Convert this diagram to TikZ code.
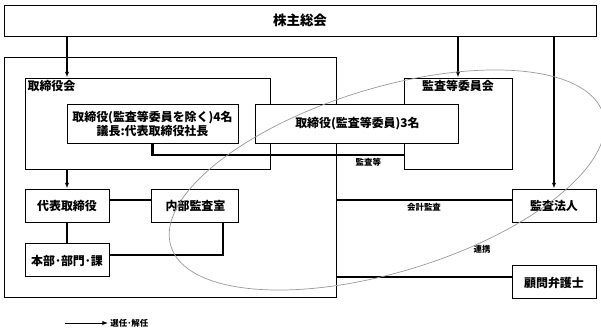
\documentclass[tikz,border=0pt]{standalone}
\usepackage{fontspec}
\setmainfont{Noto Sans CJK JP}
\usepackage{tikz}
\usetikzlibrary{positioning, arrows.meta, shapes.geometric}

\begin{document}
\begin{tikzpicture}[
        node distance=0.5cm and 1cm,
        box/.style={rectangle, draw=black, line width=0.7pt, fill=white, minimum width=2.1cm, minimum height=0.825cm, align=center, inner sep=1pt, font=\fontsize{8.5}{10}\selectfont\bfseries},
        frame/.style={rectangle, draw=black, line width=0.7pt, inner sep=0pt},
        tag/.style={font=\fontsize{8.5}{10}\selectfont\bfseries, inner sep=2pt},
        note/.style={font=\fontsize{6}{7}\selectfont\bfseries, inner sep=1.5pt},
        arrow/.style={-{Latex[length=4pt, width=3pt]}, line width=0.9pt},
        link/.style={line width=2pt}
    ]
    \useasboundingbox (0,0) rectangle (15.025,-8.35);
    \node[box, minimum width=14.8cm, minimum height=0.775cm, font=\fontsize{9.6}{11}\selectfont\bfseries] (gm) at (7.5,-0.5125) {株主総会};
    \node[frame, minimum width=8.3cm, minimum height=6cm] (corp) at (4.25,-4.425) {};
    \node[frame, minimum width=6.125cm, minimum height=2.275cm, label={[tag, anchor=north west]north west:取締役会}] (board) at (3.6875,-3.0875) {};
    \node[frame, minimum width=2.7cm, minimum height=2.275cm, label={[tag, anchor=north]north:監査等委員会}] (committee) at (11.45,-3.0875) {};
    \node[box, minimum width=4.275cm, minimum height=0.975cm] (dir4) at (3.8125,-3.0875) {取締役(監査等委員を除く)4名\\議長:代表取締役社長};
    \node[box, minimum width=5.075cm, minimum height=0.975cm, right=0.425cm of dir4] (dir3) {取締役(監査等委員)3名};

    \node[box] (rep) at (1.675,-5.1375) {代表取締役};
    \node[box, minimum width=2.175cm, right=1.05cm of rep] (office) {内部監査室};
    \node[box, below=0.525cm of rep] (dept) {本部･部門･課};
    \node[box] (auditor) at (13.85,-5.1375) {監査法人};
    \node[box, below=1.075cm of auditor] (lawyer) {顧問弁護士};

    \coordinate (comin) at ([yshift=-0.7875cm]committee.west);
    \coordinate (audin) at ([yshift=0.1375cm]auditor.west);
    \coordinate (lawin) at ([yshift=0.1375cm]lawyer.west);

    \draw[arrow] (gm.south -| rep) -- (board.north -| rep);
    \draw[arrow] (board.south -| rep) -- (rep.north);
    \draw[arrow] (gm.south -| committee) -- (committee.north);
    \draw[arrow] (gm.south -| auditor) -- (auditor.north);

    \draw[link] (dir4.south) |- node[note, below, pos=0.93] (kansalbl) {監査等} (comin);
    \draw[link] ([yshift=0.1375cm]rep.east) -- ([yshift=0.1375cm]office.west);
    \draw[link] (rep.south) -- (dept.north);
    \draw[link] ([xshift=0.6875cm]office.south) |- ([yshift=0.1375cm]dept.east);
    \draw[link] (corp.east |- audin) -- node[note, below] (kaikeilbl) {会計監査} (audin);
    \draw[link] (corp.east |- lawin) -- (lawin);

    \node[note] (renkeilbl) at (12.05,-6.225) {連携};
    \node[ellipse, draw=gray!80, line width=0.5pt, minimum width=11.3cm, minimum height=4.6cm, inner sep=0pt, rotate=17] (renkei) at (9.675,-4.5) {};

    \coordinate (legtail) at (1.625,-8.075);
    \node[note, right=1.075cm of legtail] (legend) {選任･解任};
    \draw[arrow, line width=0.7pt] (legtail) -- (legend.west);
\end{tikzpicture}
\end{document}
